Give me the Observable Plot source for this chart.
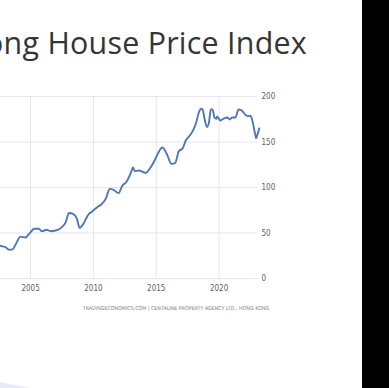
<!DOCTYPE html>
<html><head><meta charset="utf-8">
<script src="https://cdn.jsdelivr.net/npm/d3@7"></script>
<script src="https://cdn.jsdelivr.net/npm/@observablehq/plot@0.6"></script>
<style>
html,body{margin:0;padding:0;background:#fff;width:389px;height:388px;overflow:hidden;}
#wrap{position:relative;width:389px;height:388px;overflow:hidden;background:#fff;}
#title{position:absolute;right:82px;top:28px;font-family:"Open Sans",sans-serif;font-size:30.4px;line-height:30px;letter-spacing:0.25px;color:#353535;white-space:nowrap;}
#chart{position:absolute;left:0;top:0;}
#caption{position:absolute;right:120px;top:304.5px;font-family:"Liberation Sans Narrow","DejaVu Sans Condensed",sans-serif;font-size:5.3px;line-height:6px;color:#808080;white-space:nowrap;}
#bar{position:absolute;left:362px;top:0;width:27px;height:388px;background:#000;}
#swoosh{position:absolute;left:0;top:382px;width:30px;height:6px;background:#e6ebf6;clip-path:polygon(0 0,100% 100%,0 100%);}
</style></head>
<body><div id="wrap">
<div id="chart"></div>
<div id="title">Hong Kong House Price Index</div>
<div id="caption">TRADINGECONOMICS.COM | CENTALINE PROPERTY AGENCY LTD., HONG KONG</div>
<div id="swoosh"></div>
<div id="bar"></div>
</div>
<script>
const dates = ["2002-04-15","2002-08-01","2003-01-01","2003-04-20","2003-08-01","2003-11-01","2004-03-15","2004-08-01","2004-11-20","2005-04-20","2005-09-01","2005-11-20","2006-04-20","2006-08-01","2007-01-01","2007-07-01","2007-10-20","2008-01-20","2008-05-20","2008-09-10","2008-11-25","2009-02-05","2009-08-25","2009-11-25","2010-04-20","2010-08-10","2011-01-01","2011-04-20","2011-08-10","2012-01-01","2012-04-20","2012-08-10","2013-01-01","2013-02-25","2013-04-20","2013-08-10","2014-02-25","2014-07-20","2014-10-20","2015-07-01","2015-11-25","2016-03-15","2016-07-01","2016-10-20","2017-02-05","2017-05-10","2017-08-10","2017-11-25","2018-02-25","2018-05-25","2018-07-20","2018-09-10","2018-11-05","2019-01-15","2019-03-15","2019-05-05","2019-06-25","2019-08-20","2019-10-10","2019-11-05","2020-02-05","2020-05-25","2020-08-25","2020-11-05","2021-01-20","2021-04-20","2021-07-20","2021-10-20","2022-02-05","2022-04-20","2022-07-01","2022-08-10","2022-11-25","2022-12-15","2023-01-20","2023-03-15"];
const values = [38,36,34.4,31.5,32,38,46,45,49,54.6,54.6,52,53.5,52,52.7,56.4,62,72,71,65.6,55.7,58,71,73.6,78.4,81,88,98.5,97.5,93.8,102,105.8,116.8,122.3,118,118.7,116,122,127.8,144,135,126,126.7,140,143,151.6,156,162,170,182.7,186.5,185.7,175.5,166.5,171.8,185.7,185.7,177,175.5,178,173.6,176,177,174.7,177,177,185.7,184.6,180,178.4,179,175.5,157,154,158,165];
const yTicks = [0,50,100,150,200];
const xTicks = ["2005-01-01","2010-01-01","2015-01-01","2020-01-01"];
const xDomain = ["2002-08-11","2023-01-22"];

const data = dates.map((d,i)=>({date:new Date(d), value:values[i]}));
const xt = xTicks.map(d=>new Date(d));
const plot = Plot.plot({
  width:389, height:320, marginLeft:0, marginRight:132, marginTop:96, marginBottom:42,
  style:{fontFamily:"'Liberation Sans Narrow','DejaVu Sans Condensed',sans-serif", fontSize:"8px", color:"#606060", background:"transparent", overflow:"visible"},
  x:{type:"utc", domain:xDomain.map(d=>new Date(d))},
  y:{domain:[0,200]},
  marks:[
    Plot.gridX(xt, {stroke:"#e6e6ee", strokeOpacity:1}),
    Plot.gridY(yTicks, {stroke:"#e6e6ee", strokeOpacity:1}),
    Plot.axisX(xt, {tickSize:0, tickPadding:7, tickFormat:d3.utcFormat("%Y"), label:null}),
    Plot.axisY(yTicks, {anchor:"right", tickSize:0, tickPadding:4, label:null}),
    Plot.line(data,{x:"date", y:"value", stroke:"#4f76b5", strokeWidth:1.9, curve:"monotone-x"})
  ]
});
document.getElementById("chart").appendChild(plot);
</script>
</body></html>
